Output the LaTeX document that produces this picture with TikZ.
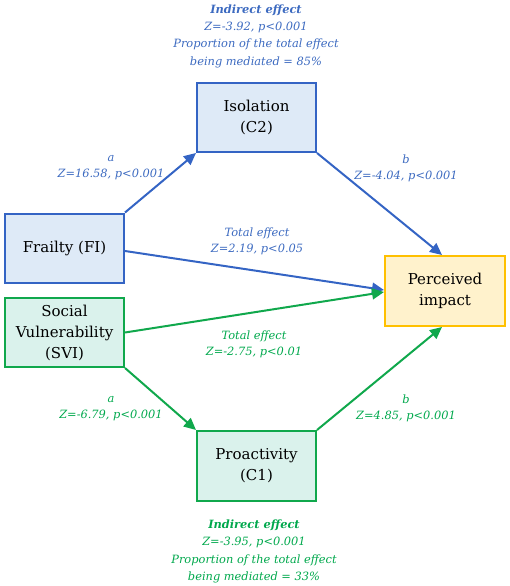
\documentclass[tikz,border=0pt]{standalone}
\usepackage{fontspec}
\setmainfont{DejaVu Serif}
\usepackage{xcolor}
\usepackage{tikz}
\usetikzlibrary{arrows.meta,positioning,calc}

\definecolor{blueline}{RGB}{52,100,196}
\definecolor{bluetext}{RGB}{60,106,192}
\definecolor{bluefill}{RGB}{222,234,247}
\definecolor{greenline}{RGB}{16,168,76}
\definecolor{greentext}{RGB}{0,168,76}
\definecolor{greenfill}{RGB}{218,242,236}
\definecolor{goldline}{RGB}{255,192,0}
\definecolor{goldfill}{RGB}{255,242,204}

\begin{document}
\begin{tikzpicture}[x=1pt,y=-1pt,
  box/.style={draw,line width=2pt,minimum width=119pt,minimum height=69pt,
    align=center,font=\fontsize{15}{21}\selectfont},
  lbl/.style={align=center,font=\fontsize{11.4}{16}\selectfont\itshape},
  arr/.style={line width=2pt,-{Triangle[length=12pt,width=11pt]}}]
  \useasboundingbox (0,0) rectangle (510,586);
  % Boxes
  \node[box,blueline,fill=bluefill,text=black] (iso) at (256.5,117.5) {Isolation\\(C2)};
  \node[box,blueline,fill=bluefill,text=black] (frail) at (64.5,248) {Frailty (FI)};
  \node[box,greenline,fill=greenfill,text=black] (svi) at (64.5,332.5) {Social\\Vulnerability\\(SVI)};
  \node[box,goldline,fill=goldfill,text=black,minimum width=120pt,minimum height=70pt] (impact) at (445,291) {Perceived\\impact};
  \node[box,greenline,fill=greenfill,text=black,minimum height=70pt] (proact) at (256.5,466) {Proactivity\\(C1)};
  % Frailty paths
  \draw[arr,blueline] (frail.north east) -- (iso.south west);
  \draw[arr,blueline] (iso.south east) -- ($(impact.north)+(-3,0)$);
  \draw[arr,blueline] ($(frail.east)+(0,3)$) -- ($(impact.west)+(0,-1)$);
  % SVI paths
  \draw[arr,greenline] (svi.east) -- ($(impact.west)+(0,1)$);
  \draw[arr,greenline] (svi.south east) -- (proact.north west);
  \draw[arr,greenline] (proact.north east) -- ($(impact.south)+(-3,0)$);
  % Labels
  \node[lbl,bluetext,font=\fontsize{11.4}{17.3}\selectfont\itshape] (indfi) at (256,36)
    {\textbf{Indirect effect}\\Z=-3.92, p<0.001\\Proportion of the total effect\\being mediated = 85\%};
  \node[lbl,bluetext] (afi) at (111,168) {a\\Z=16.58, p<0.001};
  \node[lbl,bluetext] (bfi) at (406,168) {b\\Z=-4.04, p<0.001};
  \node[lbl,bluetext] (totfi) at (257,241) {Total effect\\Z=2.19, p<0.05};
  \node[lbl,greentext] (totsvi) at (254,344) {Total effect\\Z=-2.75, p<0.01};
  \node[lbl,greentext] (asvi) at (111,408.5) {a\\Z=-6.79, p<0.001};
  \node[lbl,greentext] (bsvi) at (406,408.5) {b\\Z=4.85, p<0.001};
  \node[lbl,greentext,font=\fontsize{11.4}{17.3}\selectfont\itshape] (indsvi) at (254,551.5)
    {\textbf{Indirect effect}\\Z=-3.95, p<0.001\\Proportion of the total effect\\being mediated = 33\%};
\end{tikzpicture}
\end{document}
